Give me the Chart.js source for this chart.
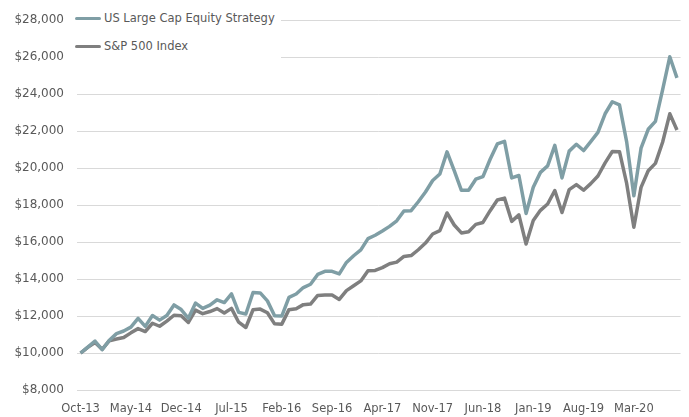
<!DOCTYPE html>
<html>
<head>
<meta charset="utf-8">
<script src="https://cdn.jsdelivr.net/npm/chart.js@4.4.1/dist/chart.umd.min.js"></script>
<style>
  html, body { margin: 0; padding: 0; background: #fff; }
  #wrap { position: relative; width: 689px; height: 417px; }
  #legend { position: absolute; left: 72px; top: 5px; background: #fff; padding: 2px 6px 2px 3px;
    font-family: 'DejaVu Sans', sans-serif; font-size: 11.5px; color: #595959; }
  .item { display: flex; align-items: center; height: 22px; margin-bottom: 6px; }
  .swatch { width: 26px; height: 3px; border-radius: 2px; margin-right: 3px; }
</style>
</head>
<body>
<div id="wrap">
  <canvas id="chart" width="689" height="417"></canvas>
  <div id="legend"></div>
</div>
<script>
// monthly categories, Oct-13 .. Sep-20
const months = [
  'Oct-13','Nov-13','Dec-13',
  'Jan-14','Feb-14','Mar-14','Apr-14','May-14','Jun-14','Jul-14','Aug-14','Sep-14','Oct-14','Nov-14','Dec-14',
  'Jan-15','Feb-15','Mar-15','Apr-15','May-15','Jun-15','Jul-15','Aug-15','Sep-15','Oct-15','Nov-15','Dec-15',
  'Jan-16','Feb-16','Mar-16','Apr-16','May-16','Jun-16','Jul-16','Aug-16','Sep-16','Oct-16','Nov-16','Dec-16',
  'Jan-17','Feb-17','Mar-17','Apr-17','May-17','Jun-17','Jul-17','Aug-17','Sep-17','Oct-17','Nov-17','Dec-17',
  'Jan-18','Feb-18','Mar-18','Apr-18','May-18','Jun-18','Jul-18','Aug-18','Sep-18','Oct-18','Nov-18','Dec-18',
  'Jan-19','Feb-19','Mar-19','Apr-19','May-19','Jun-19','Jul-19','Aug-19','Sep-19','Oct-19','Nov-19','Dec-19',
  'Jan-20','Feb-20','Mar-20','Apr-20','May-20','Jun-20','Jul-20','Aug-20','Sep-20'
];

// x labels that are actually shown
const tickLabels = ['Oct-13','May-14','Dec-14','Jul-15','Feb-16','Sep-16','Apr-17','Nov-17','Jun-18','Jan-19','Aug-19','Mar-20'];

const strategy = [
  10000, 10320, 10650,
  10180, 10690, 11050, 11190, 11400, 11870, 11440, 12030, 11780, 12030, 12600, 12350,
  11880, 12700, 12410, 12590, 12880, 12730, 13200, 12200, 12110, 13270, 13250, 12820,
  12020, 12000, 13010, 13190, 13540, 13720, 14250, 14420, 14420, 14280, 14900, 15260,
  15580, 16190, 16370, 16600, 16850, 17150, 17680, 17700, 18180, 18710, 19330, 19680,
  20880, 19860, 18800, 18800, 19400, 19540, 20480, 21310, 21450, 19470, 19600, 17550,
  18970, 19770, 20120, 21230, 19470, 20920, 21290, 20950, 21430, 21930, 22940, 23590,
  23420, 21420, 18510, 21080, 22100, 22530, 24230, 26020, 24880
];

const sp500 = [
  10000, 10305, 10566,
  10200, 10666, 10755, 10835, 11090, 11319, 11163, 11610, 11448, 11727, 12042, 12012,
  11652, 12322, 12127, 12243, 12401, 12160, 12416, 11667, 11379, 12340, 12377, 12181,
  11577, 11562, 12346, 12394, 12617, 12650, 13117, 13135, 13138, 12899, 13376, 13641,
  13900, 14452, 14469, 14618, 14824, 14916, 15223, 15270, 15585, 15948, 16437, 16620,
  17573, 16925, 16495, 16558, 16957, 17062, 17697, 18274, 18378, 17121, 17470, 15892,
  17165, 17716, 18060, 18792, 17598, 18838, 19109, 18807, 19159, 19575, 20285, 20898,
  20890, 19172, 16803, 18958, 19861, 20256, 21399, 22937, 22065
];

const seriesNames = ['US Large Cap Equity Strategy', 'S&P 500 Index'];
const seriesColors = ['#7f9ea5', '#7f7f7f'];

const TEXT = '#595959';

function buildLegend() {
  const el = document.getElementById('legend');
  el.innerHTML = seriesNames.map((name, i) =>
    `<div class="item"><span class="swatch" style="background:${seriesColors[i]}"></span>${name}</div>`
  ).join('');
}

function renderChart() {
  const ctx = document.getElementById('chart');
  new Chart(ctx, {
    type: 'line',
    data: {
      labels: months,
      datasets: [
        { label: seriesNames[0], data: strategy, borderColor: seriesColors[0], borderWidth: 3.5, pointRadius: 0, tension: 0, borderJoinStyle: 'round' },
        { label: seriesNames[1], data: sp500, borderColor: seriesColors[1], borderWidth: 3.5, pointRadius: 0, tension: 0, borderJoinStyle: 'round' }
      ]
    },
    options: {
      responsive: false,
      animation: false,
      layout: { padding: { left: 0, right: 6, top: 18, bottom: 0 } },
      plugins: { legend: { display: false }, tooltip: { enabled: false } },
      scales: {
        x: {
          offset: true,
          grid: { display: false, drawTicks: false },
          border: { display: false },
          ticks: {
            autoSkip: false, maxRotation: 0, minRotation: 0, padding: 12,
            color: TEXT, font: { family: "'DejaVu Sans', sans-serif", size: 11.5 },
            callback: function (v, i) { const l = months[i]; return tickLabels.includes(l) ? l : ''; }
          },
          afterFit: s => { s.height = 27; }
        },
        y: {
          min: 8000, max: 28000,
          grid: { color: '#d9d9d9', lineWidth: 1, drawTicks: false },
          border: { display: false },
          ticks: {
            stepSize: 2000, padding: 13, color: TEXT, font: { family: "'DejaVu Sans', sans-serif", size: 12 },
            callback: v => '$' + Number(v).toLocaleString('en-US')
          },
          afterFit: s => { s.width = 77; }
        }
      }
    }
  });
}

buildLegend();
renderChart();
</script>
</body>
</html>
